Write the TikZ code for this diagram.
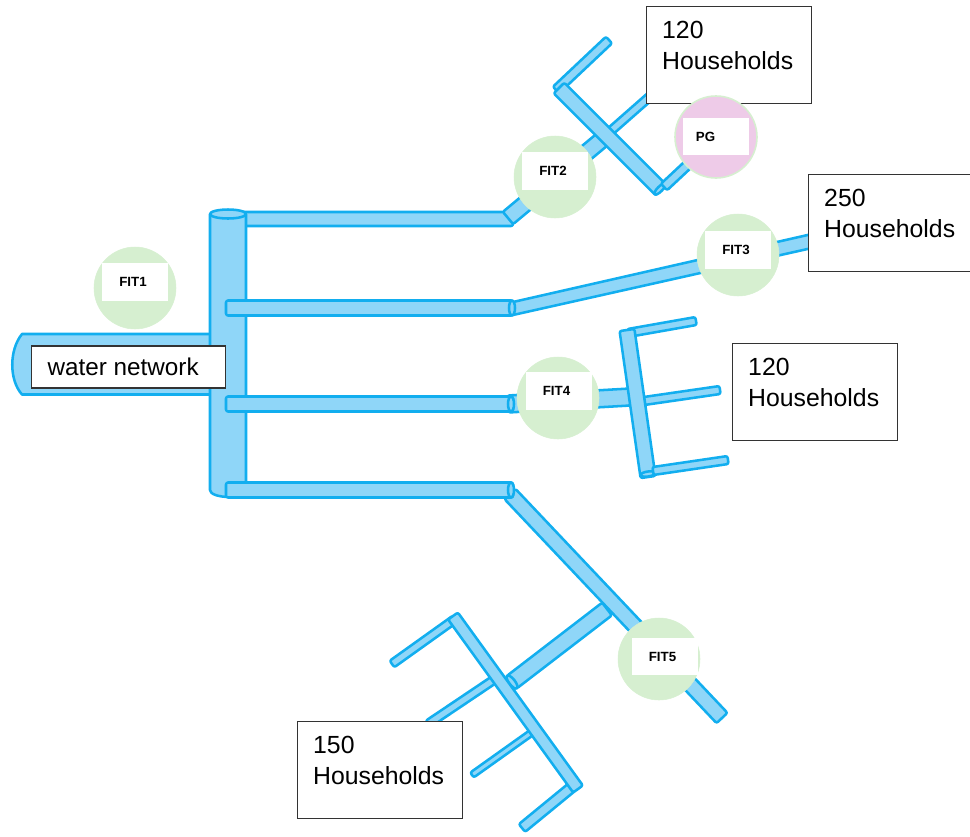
\documentclass[tikz,border=0pt]{standalone}
\usepackage{fontspec}
\setmainfont{Liberation Sans}
\usetikzlibrary{calc}
\definecolor{pipefill}{HTML}{8FD6F8}
\definecolor{pipeline}{HTML}{12AEEF}
\definecolor{fitgreen}{HTML}{D6EFD0}
\definecolor{pgpink}{HTML}{EECBE8}
\tikzset{
  pipeshape/.style={draw=pipeline,fill=pipefill,line width=1.9pt,line join=round},
  fitcircle/.style={circle,fill=fitgreen,draw=fitgreen,inner sep=0pt,minimum size=61.5pt},
  pgcircle/.style={circle,fill=pgpink,draw=fitgreen,line width=1.2pt,inner sep=0pt,minimum size=61.5pt},
  taglabel/.style={fill=white,inner sep=0pt,minimum width=49.5pt,minimum height=28pt,font=\bfseries\fontsize{10}{11}\selectfont},
  hhbox/.style={draw=black!80,fill=white,line width=0.8pt,inner xsep=11.5pt,inner ysep=0pt,anchor=north west,
    text width=100pt,align=left,minimum width=123.5pt,minimum height=72.5pt,
    font=\fontsize{18.6}{23.2}\selectfont},
}
\newcommand{\pipe}[3]{\draw[pipeshape,rounded corners=1.5pt]
  ($(#1)!#3*0.375pt!90:(#2)$) -- ($(#2)!#3*0.375pt!-90:(#1)$) --
  ($(#2)!#3*0.375pt!90:(#1)$) -- ($(#1)!#3*0.375pt!-90:(#2)$) -- cycle;}
\newcommand{\taglabeltext}[1]{\raisebox{-1pt}{#1}\hspace*{3pt}}
\begin{document}
\begin{tikzpicture}[x=0.75pt,y=-0.75pt]
\useasboundingbox (0,0) rectangle (970,836);
% inlet and trunk
\draw[pipeshape] (212,334) -- (22,334) .. controls (9,350) and (9,380) .. (22,394.5) -- (212,394.5);
\pipe{240,219}{513,219}{14}
\draw[pipeshape] (210,214) -- (210,490) .. controls (210,494) and (218,497) .. (230,497) -- (246,497) -- (246,214) -- cycle;
\draw[pipeshape] (228,214) ellipse (18 and 4.5);
% horizontal branches
\pipe{508,218}{610,133}{16}
\pipe{226,308}{513,308}{15}
\draw[pipeshape] (513,302) -- (812,234) -- (812,248) -- (513,315) -- cycle;
\draw[pipeshape] (512,308) ellipse (3 and 7.5);
\pipe{508,404}{630,397}{17}
\pipe{226,404}{513,404}{15}
\draw[pipeshape] (511,404) ellipse (3 and 7.5);
\pipe{510,494}{722,718}{15}
\pipe{226,490}{513,490}{15}
\draw[pipeshape] (511,490) ellipse (3 and 7.5);
% FIT2 / PG assembly
\pipe{605,136}{655,92}{8}
\pipe{556,90}{609,40}{9}
\pipe{559,88}{661,190}{15}
\draw[pipeshape] (660,189) ellipse[x radius=7.5,y radius=2.5,rotate=45];
\pipe{664,187}{695,158}{9}
% FIT4 assembly
\pipe{628,333}{696,321}{8}
\pipe{644,401}{720,390}{8}
\pipe{627,330}{648,477}{15}
\draw[pipeshape] (648,474) ellipse[x radius=7.5,y radius=2.5,rotate=8];
\pipe{653,471}{728,460}{8}
% FIT5 assembly
\pipe{607,609}{512,682}{16}
\draw[pipeshape] (512,682) ellipse[x radius=8,y radius=3,rotate=-52];
\pipe{455,619}{392,664}{8}
\pipe{495,679}{428,724}{8}
\pipe{531,733}{472,775}{6}
\pipe{572,787}{522,828}{10}
\pipe{453,616}{578,789}{12}
% households boxes
\node[hhbox] (hhA) at (646,6) {120\\Households\\[-16.5pt]\strut};
\node[hhbox] (hhB) at (808,174) {250\\Households\\[-16.5pt]\strut};
\node[hhbox] (hhC) at (732,343) {120\\Households\\[-16.5pt]\strut};
\node[hhbox] (hhD) at (297,721) {150\\Households\\[-16.5pt]\strut};
\node[draw=black!80,fill=white,line width=0.8pt,minimum width=146pt,minimum height=31.5pt,inner sep=0pt,
  font=\fontsize{18.2}{20}\selectfont] (net) at (128.5,367) {water network\hspace*{8pt}};
% meters
\node[fitcircle] (c1) at (135,288) {};
\node[fitcircle] (c2) at (555,177) {};
\node[pgcircle] (c6) at (716,137) {};
\node[fitcircle] (c3) at (738,255) {};
\node[fitcircle] (c4) at (558,398) {};
\node[fitcircle] (c5) at (659,659) {};
\node[taglabel] (t1) at (135,282) {\taglabeltext{FIT1}};
\node[taglabel] (t2) at (555,171) {\taglabeltext{FIT2}};
\node[taglabel] (t6) at (715.5,136.5) {\hspace*{-12pt}\taglabeltext{PG}};
\node[taglabel] (t3) at (738,250) {\taglabeltext{FIT3}};
\node[taglabel] (t4) at (558.5,391) {\taglabeltext{FIT4}};
\node[taglabel] (t5) at (664.5,656.5) {\taglabeltext{FIT5}};
\end{tikzpicture}
\end{document}
